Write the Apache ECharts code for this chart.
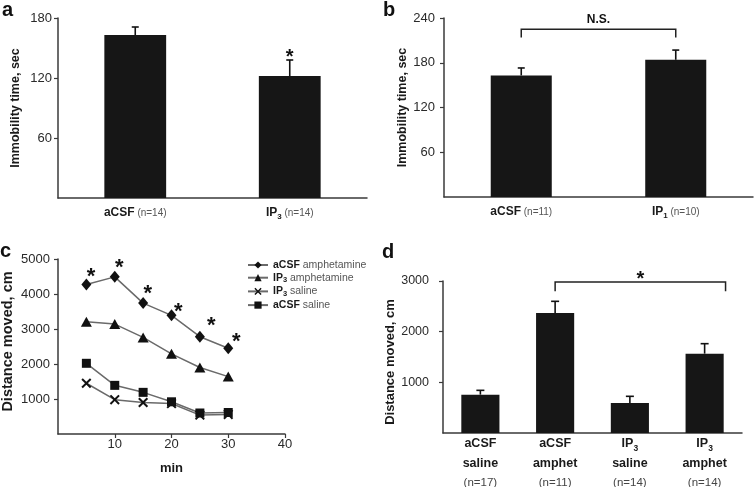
<!DOCTYPE html>
<html><head><meta charset="utf-8">
<script src="https://cdn.jsdelivr.net/npm/echarts@6/dist/echarts.min.js"></script>
<style>html,body{margin:0;padding:0;background:#fff}#c{width:754px;height:487px}</style>
</head><body><div id="c"></div>
<script>
// ---------- Panel a ----------
const aCategories = ['aCSF', 'IP3'];
const aN = ['n=14', 'n=14'];
const aMeans = [163, 122];
const aSem = [8, 16];
const aStar = [[1, 145]];
const aYMax = 180, aYStep = 60;

// ---------- Panel b ----------
const bCategories = ['aCSF', 'IP1'];
const bN = ['n=11', 'n=10'];
const bMeans = [163, 184];
const bSem = [10, 13];
const bBracket = [[0, 1, 225, 214]];   // from cat, to cat, top, drop-to
const bBracketText = 'N.S.';
const bYMax = 240, bYStep = 60;

// ---------- Panel c ----------
const cMinutes = [5, 10, 15, 20, 25, 30];
const cAcsfAmph = [4270, 4490, 3740, 3390, 2780, 2450];
const cIp3Amph = [3210, 3140, 2760, 2290, 1900, 1640];
const cIp3Saline = [1450, 980, 900, 870, 540, 560];
const cAcsfSaline = [2020, 1390, 1190, 920, 600, 615];
const cStarX = [5.8, 10.8, 15.8, 21.2, 27.0, 31.4];
const cStarY = [4640, 4900, 4160, 3640, 3240, 2780];
const cSeriesNames = ['aCSF amphetamine', 'IP3 amphetamine', 'IP3 saline', 'aCSF saline'];
const cXMax = 40, cXStep = 10, cYMax = 5000, cYStep = 1000;

// ---------- Panel d ----------
const dGroup = ['aCSF', 'aCSF', 'IP3', 'IP3'];
const dTreatment = ['saline', 'amphet', 'saline', 'amphet'];
const dN = ['n=17', 'n=11', 'n=14', 'n=14'];
const dMeans = [757, 2368, 592, 1566];
const dSem = [85, 231, 132, 197];
const dBracket = [[1, 3, 2980, 2796]];
const dBracketText = '*';
const dYMax = 3000, dYStep = 1000;

// ---------- styling ----------
const FONT = '"Liberation Sans", Arial, sans-serif';
const AXIS_COLOR = '#3a3a3a';
const BAR_COLOR = '#161616';
const TEXT_DARK = '#1a1a1a';

function subName(s) {
  const m = /^(IP)(\d)$/.exec(s);
  return m ? '{b|' + m[1] + '}{s|' + m[2] + '}' : '{b|' + s + '}';
}
const aLabels = aCategories.map((c, i) => subName(c) + '{n| (' + aN[i] + ')}');
const bLabels = bCategories.map((c, i) => subName(c) + '{n| (' + bN[i] + ')}');
const dLabels = dGroup.map((g, i) => subName(g) + '\n{b|' + dTreatment[i] + '}\n{n|(' + dN[i] + ')}');

const richAB = {
  b: {fontFamily: FONT, fontWeight: 'bold', fontSize: 12, color: TEXT_DARK, lineHeight: 16},
  s: {fontFamily: FONT, fontWeight: 'bold', fontSize: 8, color: TEXT_DARK, lineHeight: 10, verticalAlign: 'bottom'},
  n: {fontFamily: FONT, fontSize: 10, color: '#555', lineHeight: 16}
};
const richD = {
  b: {fontFamily: FONT, fontWeight: 'bold', fontSize: 12.5, color: TEXT_DARK, lineHeight: 19.5},
  s: {fontFamily: FONT, fontWeight: 'bold', fontSize: 8.5, color: TEXT_DARK, lineHeight: 12, verticalAlign: 'bottom'},
  n: {fontFamily: FONT, fontSize: 11.5, color: '#444', lineHeight: 19.5}
};

function errRender(capHalf) {
  return function (params, api) {
    const x = api.value(0), m = api.value(1), e = api.value(2);
    const p0 = api.coord([x, m]), p1 = api.coord([x, m + e]);
    const st = {stroke: '#111', lineWidth: 1.6};
    return {type: 'group', children: [
      {type: 'line', shape: {x1: p0[0], y1: p0[1], x2: p1[0], y2: p1[1]}, style: st},
      {type: 'line', shape: {x1: p1[0] - capHalf, y1: p1[1], x2: p1[0] + capHalf, y2: p1[1]}, style: st}
    ]};
  };
}
function starRender(fontSize) {
  return function (params, api) {
    const p = api.coord([api.value(0), api.value(1)]);
    return {type: 'text', x: p[0], y: p[1] + fontSize * 0.23,
      style: {text: '*', fontSize: fontSize, fontWeight: 'bold', fontFamily: FONT, fill: '#111', align: 'center', verticalAlign: 'middle'}};
  };
}
function bracketRender(text, fontSize, textGap, rightShiftFrac, isStar) {
  return function (params, api) {
    const band = api.size([1, 0])[0];
    const pa = api.coord([api.value(0), api.value(2)]);
    const pb = api.coord([api.value(1), api.value(2)]);
    const pd = api.coord([api.value(0), api.value(3)]);
    const x1 = pa[0], x2 = pb[0] + band * rightShiftFrac, y = pa[1], yd = pd[1];
    const st = {stroke: '#222', lineWidth: 1.5, fill: null};
    return {type: 'group', children: [
      {type: 'polyline', shape: {points: [[x1, yd], [x1, y], [x2, y], [x2, yd]]}, style: st},
      {type: 'text', x: (x1 + x2) / 2, y: y - textGap + (isStar ? fontSize * 0.23 : 0),
        style: {text: text, fontSize: fontSize, fontWeight: 'bold', fontFamily: FONT, fill: '#111', align: 'center', verticalAlign: 'middle'}}
    ]};
  };
}
const plainNumber = v => String(v);

function valueAxisY(grid, max, step, name, nameGap, nameSize, labelSize, margin, namePadding) {
  return {
    type: 'value', gridIndex: grid, min: 0, max: max, interval: step,
    axisLine: {show: true, lineStyle: {color: AXIS_COLOR, width: 1.5}},
    axisTick: {show: true, length: 4, lineStyle: {color: AXIS_COLOR, width: 1.2}},
    splitLine: {show: false},
    axisLabel: {showMinLabel: false, margin: margin, fontSize: labelSize, fontFamily: FONT, color: '#2a2a2a', formatter: plainNumber},
    name: name, nameLocation: 'middle', nameGap: nameGap,
    nameTextStyle: {fontWeight: 'bold', fontSize: nameSize, fontFamily: FONT, color: TEXT_DARK, padding: namePadding || 0}
  };
}
function catAxisX(grid, data, rich, margin) {
  return {
    type: 'category', gridIndex: grid, data: data,
    axisLine: {show: true, lineStyle: {color: AXIS_COLOR, width: 1.5}},
    axisTick: {show: false},
    axisLabel: {interval: 0, margin: margin, rich: rich, fontFamily: FONT}
  };
}

const legendFormatter = function (name) {
  const parts = name.split(' ');
  return subName(parts[0]).replace(/\{b\|/g, '{lb|').replace(/\{s\|/g, '{ls|') + '{ln| ' + parts.slice(1).join(' ') + '}';
};

const chart = echarts.init(document.getElementById('c'), null, {renderer: 'canvas'});
const option = {
  animation: false,
  backgroundColor: '#fff',
  grid: [
    {left: 58, top: 18, width: 309, height: 180, outerBoundsMode: 'none', containLabel: false},
    {left: 444, top: 18, width: 309, height: 179, outerBoundsMode: 'none', containLabel: false},
    {left: 58, top: 259, width: 227, height: 175, outerBoundsMode: 'none', containLabel: false},
    {left: 443, top: 281, width: 299, height: 152, outerBoundsMode: 'none', containLabel: false}
  ],
  xAxis: [
    catAxisX(0, aLabels, richAB, 7),
    catAxisX(1, bLabels, richAB, 7),
    {
      type: 'value', gridIndex: 2, min: 0, max: cXMax, interval: cXStep,
      axisLine: {show: true, lineStyle: {color: AXIS_COLOR, width: 1.5}},
      axisTick: {show: true, length: 4, lineStyle: {color: AXIS_COLOR, width: 1.2}},
      splitLine: {show: false},
      axisLabel: {showMinLabel: false, margin: 4, fontSize: 13, fontFamily: FONT, color: '#2a2a2a', formatter: plainNumber},
      name: 'min', nameLocation: 'middle', nameGap: 28,
      nameTextStyle: {fontWeight: 'bold', fontSize: 13, fontFamily: FONT, color: TEXT_DARK}
    },
    catAxisX(3, dLabels, richD, 1)
  ],
  yAxis: [
    valueAxisY(0, aYMax, aYStep, 'Immobility time, sec', 36, 12.5, 13, 6),
    valueAxisY(1, bYMax, bYStep, 'Immobility time, sec', 30, 12.5, 13, 9),
    valueAxisY(2, cYMax, cYStep, 'Distance moved, cm', 43, 14.5, 13, 8, [0, 0, 0, 10]),
    valueAxisY(3, dYMax, dYStep, 'Distance moved, cm', 41, 13, 12.5, 14, [0, 10, 0, 0])
  ],
  legend: {
    data: cSeriesNames, orient: 'vertical', left: 242, top: 254.5,
    itemWidth: 20, itemHeight: 9, itemGap: 1.7,
    formatter: legendFormatter,
    textStyle: {
      fontFamily: FONT, fontSize: 10.5,
      rich: {
        lb: {fontFamily: FONT, fontWeight: 'bold', fontSize: 10.5, color: TEXT_DARK, lineHeight: 13},
        ls: {fontFamily: FONT, fontWeight: 'bold', fontSize: 7.5, color: TEXT_DARK, lineHeight: 8, verticalAlign: 'bottom'},
        ln: {fontFamily: FONT, fontSize: 10.5, color: '#555', lineHeight: 13}
      }
    }
  },
  graphic: [
    {type: 'text', left: 2, top: 0, style: {text: 'a', fontSize: 20, fontWeight: 'bold', fontFamily: FONT, fill: '#111'}},
    {type: 'text', left: 383, top: 0, style: {text: 'b', fontSize: 20, fontWeight: 'bold', fontFamily: FONT, fill: '#111'}},
    {type: 'text', left: 0, top: 241, style: {text: 'c', fontSize: 20, fontWeight: 'bold', fontFamily: FONT, fill: '#111'}},
    {type: 'text', left: 382, top: 242, style: {text: 'd', fontSize: 20, fontWeight: 'bold', fontFamily: FONT, fill: '#111'}}
  ],
  series: [
    // a
    {type: 'bar', xAxisIndex: 0, yAxisIndex: 0, data: aMeans, barWidth: '40%', itemStyle: {color: BAR_COLOR}},
    {type: 'custom', xAxisIndex: 0, yAxisIndex: 0, data: aMeans.map((m, i) => [i, m, aSem[i]]), encode: {x: 0, y: 1}, renderItem: errRender(3.5), z: 3},
    {type: 'custom', xAxisIndex: 0, yAxisIndex: 0, data: aStar, encode: {x: 0, y: 1}, renderItem: starRender(20), z: 4},
    // b
    {type: 'bar', xAxisIndex: 1, yAxisIndex: 1, data: bMeans, barWidth: '39.5%', itemStyle: {color: BAR_COLOR}},
    {type: 'custom', xAxisIndex: 1, yAxisIndex: 1, data: bMeans.map((m, i) => [i, m, bSem[i]]), encode: {x: 0, y: 1}, renderItem: errRender(3.5), z: 3},
    {type: 'custom', xAxisIndex: 1, yAxisIndex: 1, data: bBracket, encode: {x: 0, y: 2}, renderItem: bracketRender(bBracketText, 12, 10, 0, false), z: 4},
    // c
    {name: cSeriesNames[0], type: 'line', xAxisIndex: 2, yAxisIndex: 2, data: cMinutes.map((x, i) => [x, cAcsfAmph[i]]),
      symbol: 'diamond', symbolSize: [10, 12], lineStyle: {color: '#6a6a6a', width: 1.5}, itemStyle: {color: '#111'}},
    {name: cSeriesNames[1], type: 'line', xAxisIndex: 2, yAxisIndex: 2, data: cMinutes.map((x, i) => [x, cIp3Amph[i]]),
      symbol: 'triangle', symbolSize: [11, 10], lineStyle: {color: '#6a6a6a', width: 1.5}, itemStyle: {color: '#111'}},
    {name: cSeriesNames[2], type: 'line', xAxisIndex: 2, yAxisIndex: 2, data: cMinutes.map((x, i) => [x, cIp3Saline[i]]),
      symbol: 'path://M0,1.4L1.4,0L5,3.6L8.6,0L10,1.4L6.4,5L10,8.6L8.6,10L5,6.4L1.4,10L0,8.6L3.6,5Z', symbolSize: [10, 10],
      lineStyle: {color: '#6a6a6a', width: 1.5}, itemStyle: {color: '#111'}},
    {name: cSeriesNames[3], type: 'line', xAxisIndex: 2, yAxisIndex: 2, data: cMinutes.map((x, i) => [x, cAcsfSaline[i]]),
      symbol: 'rect', symbolSize: [9, 9], lineStyle: {color: '#6a6a6a', width: 1.5}, itemStyle: {color: '#111'}},
    {type: 'custom', xAxisIndex: 2, yAxisIndex: 2, data: cStarX.map((x, i) => [x, cStarY[i]]), encode: {x: 0, y: 1}, renderItem: starRender(22), z: 4},
    // d
    {type: 'bar', xAxisIndex: 3, yAxisIndex: 3, data: dMeans, barWidth: '51%', itemStyle: {color: BAR_COLOR}},
    {type: 'custom', xAxisIndex: 3, yAxisIndex: 3, data: dMeans.map((m, i) => [i, m, dSem[i]]), encode: {x: 0, y: 1}, renderItem: errRender(4), z: 3},
    {type: 'custom', xAxisIndex: 3, yAxisIndex: 3, data: dBracket, encode: {x: 0, y: 2}, renderItem: bracketRender(dBracketText, 20, 7, 0.28, true), z: 4}
  ]
};
chart.setOption(option);
</script>
</body></html>
